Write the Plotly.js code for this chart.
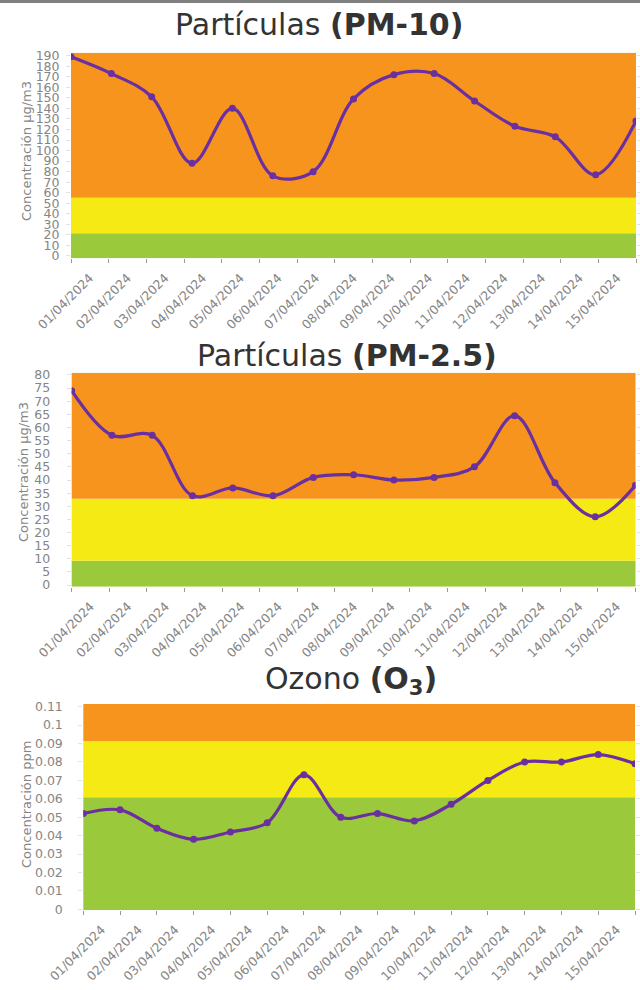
<!DOCTYPE html>
<html><head><meta charset="utf-8">
<script src="https://cdn.plot.ly/plotly-3.0.1.min.js"></script>
<style>html,body{margin:0;padding:0;background:#fff;}#chart{width:640px;height:990px;}</style>
</head><body><div id="chart"></div>
<script>
// ---- data ----
const dateLabels = ["01/04/2024","02/04/2024","03/04/2024","04/04/2024","05/04/2024","06/04/2024","07/04/2024","08/04/2024","09/04/2024","10/04/2024","11/04/2024","12/04/2024","13/04/2024","14/04/2024","15/04/2024"];
const pmDates = dateLabels.slice();
const ozoneDates = dateLabels.concat(["16/04/2024"]);
const pm10Values = [189, 173, 151, 88, 140, 76, 80, 149, 172, 173, 147, 123, 113, 77, 128];
const pm25Values = [74, 57, 57, 34, 37, 34, 41, 42, 40, 41, 45, 64.5, 39, 26, 38];
const ozoneValues = [0.052, 0.054, 0.044, 0.038, 0.042, 0.047, 0.073, 0.050, 0.052, 0.048, 0.057, 0.070, 0.080, 0.080, 0.084, 0.079];
const pm10Bands = [21.5, 55.3];
const pm25Bands = [9.2, 32.9];
const ozoneBands = [0.0608, 0.0914];
const titles = ["Partículas <b>(PM-10)</b>", "Partículas <b>(PM-2.5)</b>", "Ozono <b>(O<sub>3</sub>)</b>"];
const yTitles = ["Concentración µg/m3", "Concentración µg/m3", "Concentración ppm"];

// ---- styling ----
const bandColors = ["rgb(155,201,60)", "rgb(245,234,20)", "rgb(247,148,30)"];
const lineColor = "#6a2fa0";
const font = "DejaVu Sans, sans-serif";
const H = 990, W = 640;
const fy = px => 1 - px / H;
const fx = px => px / W;

const charts = [
  {values: pm10Values, dates: pmDates, bands: pm10Bands, yRange: [-2.2, 192.8], dtick: 10,
   xDom: [fx(71), fx(636)], yDom: [fy(258.3), fy(52.7)], standoff: 4,
   title: {x: 319, y: 24}, yTitle: {x: 27, y: 151}},
  {values: pm25Values, dates: pmDates, bands: pm25Bands, yRange: [-0.64, 80.87], dtick: 5,
   xDom: [fx(71.7), fx(635.5)], yDom: [fy(586.7), fy(372.7)], standoff: 14,
   title: {x: 347, y: 355}, yTitle: {x: 24, y: 472}},
  {values: ozoneValues, dates: ozoneDates, bands: ozoneBands, yRange: [-0.00038, 0.11147], dtick: 0.01,
   xDom: [fx(83.3), fx(635)], yDom: [fy(910), fy(704)], standoff: 13,
   title: {x: 351, y: 680}, yTitle: {x: 26, y: 805}}
];

const traces = [];
const layout = {
  width: W, height: H, margin: {l: 0, r: 0, t: 0, b: 0},
  paper_bgcolor: "#fff", plot_bgcolor: "#fff", showlegend: false,
  shapes: [{type: "rect", xref: "paper", yref: "paper", x0: 0, x1: 1, y0: fy(3), y1: 1,
            fillcolor: "#808080", line: {width: 0}}],
  annotations: []
};

charts.forEach((c, i) => {
  const yId = i === 0 ? "y" : "y" + (i + 1);
  const yKey = i === 0 ? "yaxis" : "yaxis" + (i + 1);
  const xd = 3 * i + 1, xt = 3 * i + 2, xl = 3 * i + 3;
  const xdId = xd === 1 ? "x" : "x" + xd;
  const xdKey = xd === 1 ? "xaxis" : "xaxis" + xd;
  const n = c.values.length;
  const nTicks = dateLabels.length + 1;

  traces.push({x: c.dates, y: c.values, xaxis: xdId, yaxis: yId, type: "scatter", mode: "lines+markers",
    line: {color: lineColor, width: 3.2, shape: "spline", smoothing: 1},
    marker: {color: lineColor, size: 7}, hoverinfo: "x+y"});
  // helper traces so the tick / label axes exist
  traces.push({x: [0, dateLabels.length], y: [null, null], xaxis: "x" + xt, yaxis: yId, mode: "lines", hoverinfo: "skip"});
  traces.push({x: [0, dateLabels.length], y: [null, null], xaxis: "x" + xl, yaxis: yId, mode: "lines", hoverinfo: "skip"});

  layout[xdKey] = {type: "category", domain: c.xDom, anchor: yId, range: [0, n - 1],
    showticklabels: false, ticks: "", showgrid: false, zeroline: false, showline: false};
  layout["xaxis" + xt] = {overlaying: xdId, anchor: yId, range: [0, dateLabels.length],
    tickmode: "array", tickvals: Array.from({length: nTicks}, (_, k) => k),
    showticklabels: false, ticks: "outside", ticklen: 4, tickcolor: "#9a9a9a", tickwidth: 1,
    showgrid: false, zeroline: false, showline: false};
  layout["xaxis" + xl] = {overlaying: xdId, anchor: yId, range: [0, dateLabels.length],
    tickmode: "array", tickvals: dateLabels.map((_, k) => k + 0.5), ticktext: dateLabels,
    tickangle: -45, ticks: "", ticklabelstandoff: 9,
    tickfont: {family: font, size: 12.5, color: "#858585"},
    showgrid: false, zeroline: false, showline: false};
  layout[yKey] = {domain: c.yDom, anchor: xdId, range: c.yRange, tickmode: "linear", tick0: 0, dtick: c.dtick,
    ticks: "outside", ticklen: 4, tickcolor: "#e2e2e2", mirror: "ticks", ticklabelstandoff: c.standoff,
    tickfont: {family: font, size: 12.5, color: "#858585"},
    showgrid: false, zeroline: false, showline: false};

  const edges = [c.yRange[0], c.bands[0], c.bands[1], c.yRange[1]];
  for (let b = 0; b < 3; b++) {
    layout.shapes.push({type: "rect", xref: xdId + " domain", yref: yId, x0: 0, x1: 1,
      y0: edges[b], y1: edges[b + 1], fillcolor: bandColors[b], line: {width: 0}, layer: "below"});
  }
  layout.annotations.push({xref: "paper", yref: "paper", x: fx(c.title.x), y: fy(c.title.y),
    xanchor: "center", yanchor: "middle", showarrow: false, text: titles[i],
    font: {family: font, size: 30, color: "#333"}});
  layout.annotations.push({xref: "paper", yref: "paper", x: fx(c.yTitle.x), y: fy(c.yTitle.y),
    xanchor: "center", yanchor: "middle", showarrow: false, textangle: -90, text: yTitles[i],
    font: {family: font, size: 13, color: "#858585"}});
});

Plotly.newPlot("chart", traces, layout, {displayModeBar: false, staticPlot: false});
</script>
</body></html>
